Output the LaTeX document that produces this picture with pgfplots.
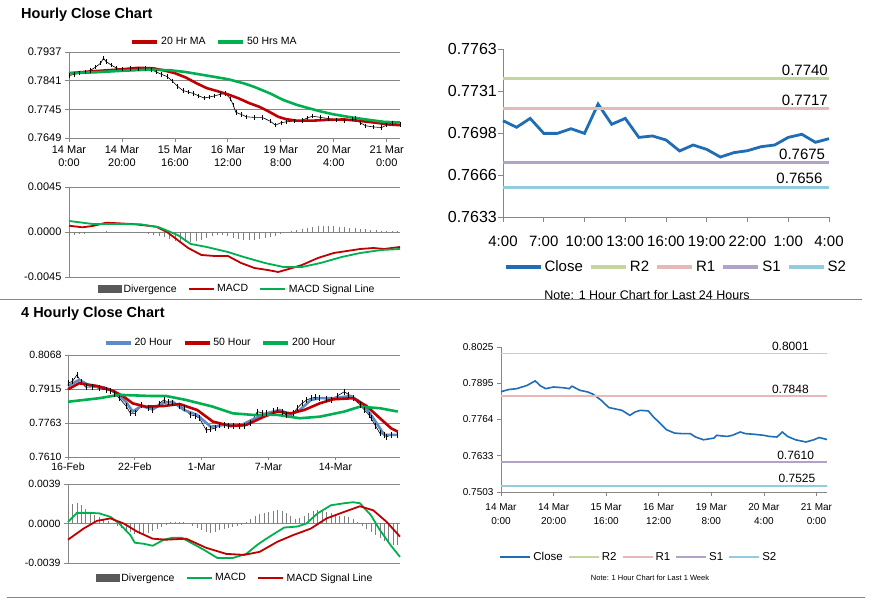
\documentclass[border=0pt]{standalone}
\usepackage{fontspec}
\setmainfont{Liberation Sans}
\usepackage{pgfplots}
\pgfplotsset{compat=1.18}

\definecolor{axgray}{HTML}{868686}
\definecolor{mared}{HTML}{C00000}
\definecolor{magreen}{HTML}{00B050}
\definecolor{closeblue}{HTML}{1F6EB5}
\definecolor{mablue}{HTML}{5B8BC8}
\definecolor{rtwo}{HTML}{C3D69B}
\definecolor{rone}{HTML}{E6B9B8}
\definecolor{sone}{HTML}{B3A2C7}
\definecolor{stwo}{HTML}{93CDDD}
\definecolor{divgray}{HTML}{7F7F7F}
\definecolor{divleg}{HTML}{595959}

\newcommand{\fs}[1]{\fontsize{#1}{#1}\selectfont}

\pgfplotsset{
  panel/.style={
    scale only axis, clip=false, scaled y ticks=false,
    axis x line=bottom, axis y line=left,
    axis line style={-, draw=axgray, line width=0.8pt},
    tick style={draw=axgray, line width=0.8pt},
    tick align=outside, major tick length=4pt,
    legend cell align=left,
    legend style={draw=none, fill=none, inner sep=0pt, anchor=center,
      /tikz/every even column/.append style={column sep=9pt}},
  },
  gridded/.style={ymajorgrids, major grid style={draw=axgray, line width=0.8pt}},
  leglen/.style 2 args={legend image code/.code={\draw[##1, line width=#2] (0pt,0pt) -- (#1,0pt);}},
}

\begin{document}
\begin{tikzpicture}[x=1pt,y=1pt]
\useasboundingbox (0,0) rectangle (873,601);
\fill[white] (0,0) rectangle (873,601);

% titles and separators
\node[anchor=west, inner sep=0pt, font=\bfseries\fs{14.5}] at (21,586) {Hourly Close Chart};
\node[anchor=west, inner sep=0pt, font=\bfseries\fs{14.5}] at (21,287) {4 Hourly Close Chart};
\draw[axgray, line width=1pt] (0,301) -- (862,301);
\draw[axgray, line width=1pt] (7,3) -- (865,3);

% ---------- hourly close with moving averages
\begin{axis}[panel, gridded, at={(69pt,463pt)}, anchor=south west,
  width=331pt, height=86pt,
  xmin=0, xmax=125, ymin=0.7649, ymax=0.7937,
  ytick={0.7649,0.7745,0.7841,0.7937},
  yticklabels={0.7649,0.7745,0.7841,0.7937},
  xtick={0,20,40,60,80,100,120},
  xticklabels={{14 Mar\\0:00},{14 Mar\\20:00},{15 Mar\\16:00},{16 Mar\\12:00},{19 Mar\\8:00},{20 Mar\\4:00},{21 Mar\\0:00}},
  xticklabel style={align=center, font=\fontsize{11}{13}\selectfont},
  yticklabel style={font=\fs{11}},
  legend columns=2, leglen={25pt}{3.5pt},
  legend style={at={(0.44,1.116)}, font=\fs{10.5}}]
\addplot[black, line width=0.6pt, mark=|, mark size=2.2pt, mark options={line width=0.6pt}, forget plot] coordinates {
(0,0.7858) (2,0.7862) (4,0.7866) (6,0.7870) (8,0.7875) (10,0.7886) (12,0.7900) (13,0.7916)
(14,0.7905) (16,0.7893) (18,0.7883) (20,0.7880) (23,0.7882) (26,0.7880) (29,0.7882) (31,0.7878)
(33,0.7870) (35,0.7862) (37,0.7855) (39,0.7840) (41,0.7822) (43,0.7808) (45,0.7803) (47,0.7798)
(49,0.7790) (51,0.7783) (53,0.7786) (55,0.7790) (57,0.7795) (59,0.7798) (61,0.7780) (62,0.7760)
(63,0.7735) (65,0.7728) (67,0.7720) (70,0.7718) (73,0.7718) (76,0.7705) (78,0.7692) (80,0.7700)
(82,0.7703) (85,0.7706) (88,0.7708) (90,0.7716) (92,0.7722) (95,0.7718) (98,0.7714) (101,0.7710)
(104,0.7706) (107,0.7712) (108,0.7716) (110,0.7700) (112,0.7690) (115,0.7686) (118,0.7684)
(120,0.7692) (122,0.7700) (125,0.7694)};
\addplot[mared, line width=2.6pt] coordinates {
(0,0.7866) (10,0.7873) (20,0.7879) (26,0.7884) (32,0.7882) (36,0.7875) (40,0.7866) (44,0.7852)
(48,0.7833) (52,0.7816) (56,0.7806) (60,0.7795) (64,0.7782) (68,0.7766) (72,0.7753) (76,0.7735)
(79,0.7720) (82,0.7712) (86,0.7707) (92,0.7707) (98,0.7710) (104,0.7711) (110,0.7706)
(116,0.7700) (121,0.7694) (125,0.7692)};
\addlegendentry{20 Hr MA}
\addplot[magreen, line width=2.6pt] coordinates {
(0,0.7866) (10,0.7869) (20,0.7874) (30,0.7878) (38,0.7876) (44,0.7870) (52,0.7858) (60,0.7846)
(66,0.7832) (70,0.7820) (76,0.7798) (81,0.7776) (86,0.7760) (90,0.7750) (95,0.7738) (100,0.7728)
(106,0.7719) (113,0.7710) (119,0.7703) (125,0.7701)};
\addlegendentry{50 Hrs MA}
\end{axis}

% ---------- hourly MACD
\begin{axis}[panel, gridded, at={(69pt,324pt)}, anchor=south west,
  width=331pt, height=90pt,
  xmin=0, xmax=125, ymin=-0.0045, ymax=0.0045,
  ytick={-0.0045,0,0.0045}, yticklabels={-0.0045,0.0000,0.0045},
  xtick=\empty,
  yticklabel style={font=\fs{11}},
  legend columns=3, leglen={25pt}{2.6pt},
  legend style={at={(0.508,-0.133)}, font=\fs{10.5}}]
\addplot[ycomb, draw=divgray, line width=0.8pt,
  legend image code/.code={\fill[divleg] (0pt,-3.5pt) rectangle (23pt,3.5pt);}] coordinates {
(0,-0.0003) (2,-0.0003) (4,-0.0002) (6,-0.0002) (8,-0.0001) (10,-0.0001) (12,0.0000) (14,0.0001)
(16,0.0000) (18,-0.0001) (20,-0.0001) (22,-0.0001) (24,-0.0001) (26,-0.0001) (28,-0.0001)
(30,-0.0002) (32,-0.0003) (34,-0.0004) (36,-0.0005) (38,-0.0007) (40,-0.0009) (42,-0.0010)
(44,-0.0010) (46,-0.0010) (48,-0.0009) (50,-0.0008) (52,-0.0006) (54,-0.0004) (56,-0.0003)
(58,-0.0003) (60,-0.0004) (62,-0.0006) (64,-0.0007) (66,-0.0008) (68,-0.0008) (70,-0.0008)
(72,-0.0007) (74,-0.0006) (76,-0.0005) (78,-0.0004) (80,-0.0002) (82,0.0000) (84,0.0001)
(86,0.0002) (88,0.0003) (90,0.0004) (92,0.0005) (94,0.0006) (96,0.0006) (98,0.0006) (100,0.0006)
(102,0.0005) (104,0.0005) (106,0.0004) (108,0.0004) (110,0.0003) (112,0.0003) (114,0.0002)
(116,0.0002) (118,0.0001) (120,0.0001) (122,0.0001) (124,0.0001)};
\addlegendentry{Divergence}
\addplot[mared, line width=1.8pt] coordinates {
(0,0.00063) (5,0.00047) (9,0.0006) (14,0.00093) (20,0.00085) (25,0.00077) (33,0.00053) (37,0.0000)
(41,-0.0008) (45,-0.0016) (50,-0.0023) (55,-0.0024) (60,-0.0024) (65,-0.0031) (70,-0.0036)
(75,-0.0038) (79,-0.0040) (83,-0.0037) (88,-0.0033) (94,-0.0026) (100,-0.0021) (105,-0.0019)
(110,-0.0017) (115,-0.0016) (119,-0.0017) (125,-0.0015)};
\addlegendentry{MACD}
\addplot[magreen, line width=1.8pt] coordinates {
(0,0.0011) (9,0.0008) (18,0.0008) (27,0.00077) (34,0.00047) (41,-0.0003) (46,-0.0012) (52,-0.0015)
(60,-0.0020) (66,-0.0025) (74,-0.0031) (81,-0.0035) (88,-0.0035) (95,-0.0031) (103,-0.0025)
(110,-0.0021) (118,-0.0018) (125,-0.0017)};
\addlegendentry{MACD Signal Line}
\end{axis}

% ---------- last 24 hours with pivots
\begin{axis}[panel, at={(503pt,384pt)}, anchor=south west,
  width=326pt, height=168pt,
  xmin=0, xmax=24, ymin=0.7633, ymax=0.7763,
  ytick={0.7633,0.76655,0.7698,0.77305,0.7763},
  yticklabels={0.7633,0.7666,0.7698,0.7731,0.7763},
  xtick={0,3,6,9,12,15,18,21,24},
  xticklabels={4:00,7:00,10:00,13:00,16:00,19:00,22:00,1:00,4:00},
  major tick length=5pt,
  xticklabel style={font=\fs{15}, yshift=-11pt},
  yticklabel style={font=\fs{16}, inner sep=1pt},
  legend columns=5, leglen={35pt}{4pt},
  legend style={at={(0.53,-0.298)}, font=\fs{15},
    /tikz/every even column/.append style={column sep=4pt}}]
\addplot[closeblue, line width=2.8pt] coordinates {
(0,0.77075) (1,0.77024) (2,0.77093) (3,0.76977) (4,0.76977) (5,0.77013) (6,0.76977) (7,0.77204)
(8,0.77047) (9,0.77093) (10,0.76946) (11,0.76957) (12,0.76926) (13,0.76841) (14,0.76887)
(15,0.76853) (16,0.76794) (17,0.76828) (18,0.76843) (19,0.76874) (20,0.76887) (21,0.76946)
(22,0.76970) (23,0.76908) (24,0.76936)};
\addlegendentry{Close}
\addplot[rtwo, line width=3.5pt] coordinates {(0,0.7740) (24,0.7740)};
\addlegendentry{R2}
\addplot[rone, line width=3.5pt] coordinates {(0,0.7717) (24,0.7717)};
\addlegendentry{R1}
\addplot[sone, line width=3.5pt] coordinates {(0,0.7675) (24,0.7675)};
\addlegendentry{S1}
\addplot[stwo, line width=3.5pt] coordinates {(0,0.7656) (24,0.7656)};
\addlegendentry{S2}
\node[anchor=south east, inner sep=1pt, font=\fs{15}] at (axis cs:24,0.77415) {0.7740};
\node[anchor=south east, inner sep=1pt, font=\fs{15}] at (axis cs:24,0.77185) {0.7717};
\node[anchor=south east, inner sep=1pt, font=\fs{15}] at (axis cs:23.8,0.76765) {0.7675};
\node[anchor=south east, inner sep=1pt, font=\fs{15}] at (axis cs:23.6,0.76575) {0.7656};
\end{axis}
\node[font=\fs{12.5}] at (647,306) {Note: 1 Hour Chart for Last 24 Hours};

% ---------- 4 hourly close with moving averages
\begin{axis}[panel, gridded, at={(68pt,144pt)}, anchor=south west,
  width=332pt, height=102pt,
  xmin=0, xmax=149, ymin=0.7610, ymax=0.8068,
  ytick={0.7610,0.77627,0.79153,0.8068},
  yticklabels={0.7610,0.7763,0.7915,0.8068},
  xtick={0,30,60,90,120},
  xticklabels={16-Feb,22-Feb,1-Mar,7-Mar,14-Mar},
  major tick length=3pt,
  xticklabel style={font=\fs{10.5}, inner sep=1pt, yshift=-2pt},
  yticklabel style={font=\fs{10.5}},
  legend columns=3, leglen={25pt}{3.5pt},
  legend style={at={(0.46,1.118)}, font=\fs{10.5}}]
\addplot[black, line width=0.6pt, mark=|, mark size=3pt, mark options={line width=0.6pt}, forget plot] coordinates {
(0,0.7941) (2,0.7950) (4,0.7978) (6,0.7945) (8,0.7923) (11,0.7925) (14,0.7918) (17,0.7912)
(19,0.7908) (21,0.7895) (23,0.7874) (26,0.7840) (28,0.7806) (30,0.7806) (33,0.7843) (36,0.7830)
(38,0.7821) (41,0.7850) (43,0.7866) (45,0.7855) (47,0.7851) (50,0.7840) (52,0.7829) (55,0.7799)
(57,0.7795) (59,0.7784) (62,0.7731) (64,0.7735) (66,0.7739) (68,0.7752) (70,0.7754) (72,0.7750)
(74,0.7749) (77,0.7748) (79,0.7749) (82,0.7761) (85,0.7814) (87,0.7808) (89,0.7806) (92,0.7815)
(94,0.7821) (96,0.7810) (98,0.7799) (101,0.7806) (103,0.7830) (105,0.7851) (107,0.7865)
(109,0.7874) (111,0.7878) (113,0.7874) (116,0.7870) (118,0.7866) (121,0.7885) (124,0.7903)
(126,0.7890) (128,0.7874) (131,0.7845) (133,0.7821) (135,0.7800) (136,0.7784) (138,0.7750)
(140,0.7716) (142,0.7710) (143,0.7701) (145,0.7708) (148,0.7709)};
\addplot[mablue, line width=2.6pt] coordinates {
(0,0.7929) (5,0.7956) (10,0.7929) (16,0.7923) (21,0.7903) (26,0.7858) (29,0.7814) (33,0.7839)
(38,0.7824) (43,0.7854) (47,0.7858) (52,0.7821) (58,0.7799) (64,0.7746) (67,0.7749) (71,0.7756)
(77,0.7749) (83,0.7779) (89,0.7806) (95,0.7821) (100,0.7799) (104,0.7821) (109,0.7866)
(113,0.7874) (119,0.7874) (127,0.7884) (131,0.7858) (136,0.7799) (142,0.7709) (148,0.7709)};
\addlegendentry{20 Hour}
\addplot[mared, line width=2.6pt] coordinates {
(0,0.7914) (5,0.7941) (13,0.7929) (20,0.7908) (25,0.7881) (29,0.7851) (35,0.7836) (43,0.7839)
(50,0.7848) (58,0.7821) (65,0.7769) (73,0.7749) (80,0.7754) (88,0.7791) (94,0.7814) (100,0.7806)
(106,0.7821) (113,0.7851) (119,0.7869) (128,0.7874) (134,0.7839) (140,0.7784) (145,0.7739)
(148,0.7724)};
\addlegendentry{50 Hour}
\addplot[magreen, line width=2.6pt] coordinates {
(0,0.7858) (14,0.7874) (23,0.7889) (37,0.7884) (44,0.7884) (53,0.7866) (65,0.7836) (74,0.7806)
(83,0.7799) (94,0.7799) (104,0.7784) (113,0.7791) (124,0.7814) (131,0.7836) (140,0.7829)
(148,0.7814)};
\addlegendentry{200 Hour}
\end{axis}

% ---------- 4 hourly MACD
\begin{axis}[panel, gridded, at={(68pt,38pt)}, anchor=south west,
  width=332pt, height=79pt,
  xmin=0, xmax=149, ymin=-0.0039, ymax=0.0039,
  ytick={-0.0039,0,0.0039}, yticklabels={-0.0039,0.0000,0.0039},
  xtick=\empty,
  yticklabel style={font=\fs{10.5}},
  legend columns=3, leglen={25pt}{2.6pt},
  legend style={at={(0.503,-0.19)}, font=\fs{10.5}}]
\addplot[ycomb, draw=divgray, line width=0.8pt,
  legend image code/.code={\fill[divleg] (0pt,-3.5pt) rectangle (23pt,3.5pt);}] coordinates {
(0,0.0018) (2,0.0019) (4,0.0020) (6,0.0018) (8,0.0014) (10,0.0011) (12,0.0008) (14,0.0006)
(16,0.0004) (18,0.0002) (20,0.0000) (22,-0.0002) (24,-0.0004) (26,-0.0006) (28,-0.0008)
(30,-0.0010) (32,-0.0010) (34,-0.0010) (36,-0.0009) (38,-0.0007) (40,-0.0005) (42,-0.0003)
(44,-0.0001) (46,0.0001) (48,0.0001) (50,0.0001) (52,0.0001) (54,0.0000) (56,-0.0002)
(58,-0.0004) (60,-0.0006) (62,-0.0008) (64,-0.0009) (66,-0.0008) (68,-0.0006) (70,-0.0005)
(72,-0.0004) (74,-0.0003) (76,-0.0002) (78,-0.0001) (80,0.0001) (82,0.0004) (84,0.0007)
(86,0.0009) (88,0.0010) (90,0.0011) (92,0.0012) (94,0.0013) (96,0.0012) (98,0.0010) (100,0.0007)
(102,0.0004) (104,0.0005) (106,0.0007) (108,0.0010) (110,0.0012) (112,0.0013) (114,0.0012)
(116,0.0011) (118,0.0010) (120,0.0008) (122,0.0007) (124,0.0007) (126,0.0006) (128,0.0004)
(130,0.0001) (132,-0.0002) (134,-0.0005) (136,-0.0008) (138,-0.0011) (140,-0.0014)
(142,-0.0017) (144,-0.0019) (146,-0.0021) (148,-0.0021)};
\addlegendentry{Divergence}
\addplot[magreen, line width=1.8pt] coordinates {
(0,0.00016) (4,0.00105) (10,0.00105) (14,0.0010) (19,0.00066) (23,0.0000) (28,-0.00115)
(30,-0.0019) (34,-0.0020) (38,-0.0022) (43,-0.0016) (47,-0.0014) (51,-0.0014) (56,-0.0020)
(61,-0.0026) (67,-0.0034) (74,-0.0034) (80,-0.0030) (85,-0.0021) (89,-0.0015) (97,-0.0004)
(103,-0.0003) (107,0.0000) (112,0.0010) (118,0.0018) (124,0.0020) (128,0.0021) (131,0.0020)
(136,0.0008) (140,-0.00066) (145,-0.0022) (149,-0.0033)};
\addlegendentry{MACD}
\addplot[mared, line width=1.8pt] coordinates {
(0,-0.0016) (7,-0.0005) (13,0.00026) (19,0.0005) (25,0.0000) (31,-0.0008) (38,-0.0015)
(44,-0.0016) (53,-0.0015) (62,-0.0024) (71,-0.0030) (79,-0.0031) (86,-0.0028) (94,-0.0018)
(101,-0.00115) (109,-0.0005) (116,0.0005) (124,0.00115) (131,0.0017) (137,0.0013)
(143,0.00016) (149,-0.0013)};
\addlegendentry{MACD Signal Line}
\end{axis}

% ---------- last week with pivots
\begin{axis}[panel, at={(501pt,109pt)}, anchor=south west,
  width=326pt, height=145pt,
  xmin=0, xmax=124, ymin=0.7503, ymax=0.8025,
  ytick={0.7503,0.76335,0.7764,0.78945,0.8025},
  yticklabels={0.7503,0.7633,0.7764,0.7895,0.8025},
  xtick={0,20,40,60,80,100,120},
  xticklabels={{14 Mar\\0:00},{14 Mar\\20:00},{15 Mar\\16:00},{16 Mar\\12:00},{19 Mar\\8:00},{20 Mar\\4:00},{21 Mar\\0:00}},
  xticklabel style={align=center, font=\fontsize{10}{14}\selectfont, yshift=-4pt},
  yticklabel style={font=\fs{10}},
  legend columns=5, leglen={30pt}{2pt},
  legend style={at={(0.423,-0.448)}, font=\fs{11.5},
    /tikz/every even column/.append style={column sep=3pt}}]
\addplot[closeblue, line width=1.6pt] coordinates {
(0,0.7864) (3,0.7872) (6,0.7875) (10,0.7887) (13,0.7903) (15,0.7885) (17,0.7875) (20,0.7881)
(24,0.7878) (26,0.7875) (27,0.7884) (30,0.7869) (33,0.7863) (35,0.7855) (38,0.7834) (41,0.7807)
(43,0.7803) (46,0.7797) (49,0.7779) (51,0.7791) (53,0.7797) (56,0.7795) (58,0.7773) (60,0.7755)
(63,0.7727) (66,0.7715) (69,0.7713) (72,0.7713) (74,0.7701) (77,0.7691) (81,0.7697) (82,0.7707)
(86,0.7703) (88,0.7707) (91,0.7719) (93,0.7713) (96,0.7711) (100,0.7707) (102,0.7703)
(105,0.7701) (107,0.7719) (109,0.7703) (112,0.7691) (116,0.7683) (119,0.7691) (121,0.7699)
(124,0.7692)};
\addlegendentry{Close}
\addplot[rtwo, line width=1.6pt] coordinates {(0,0.8001) (124,0.8001)};
\addlegendentry{R2}
\addplot[rone, line width=1.6pt] coordinates {(0,0.7848) (124,0.7848)};
\addlegendentry{R1}
\addplot[sone, line width=1.6pt] coordinates {(0,0.7610) (124,0.7610)};
\addlegendentry{S1}
\addplot[stwo, line width=1.6pt] coordinates {(0,0.7525) (124,0.7525)};
\addlegendentry{S2}
\node[anchor=south east, inner sep=1pt, font=\fs{12}] at (axis cs:117.5,0.8007) {0.8001};
\node[anchor=south east, inner sep=1pt, font=\fs{12}] at (axis cs:117.5,0.7854) {0.7848};
\node[anchor=south east, inner sep=1pt, font=\fs{12}] at (axis cs:119.5,0.7616) {0.7610};
\node[anchor=south east, inner sep=1pt, font=\fs{12}] at (axis cs:120,0.7531) {0.7525};
\end{axis}
\node[font=\fs{7.5}] at (650,23) {Note: 1 Hour Chart for Last 1 Week};
\end{tikzpicture}
\end{document}
